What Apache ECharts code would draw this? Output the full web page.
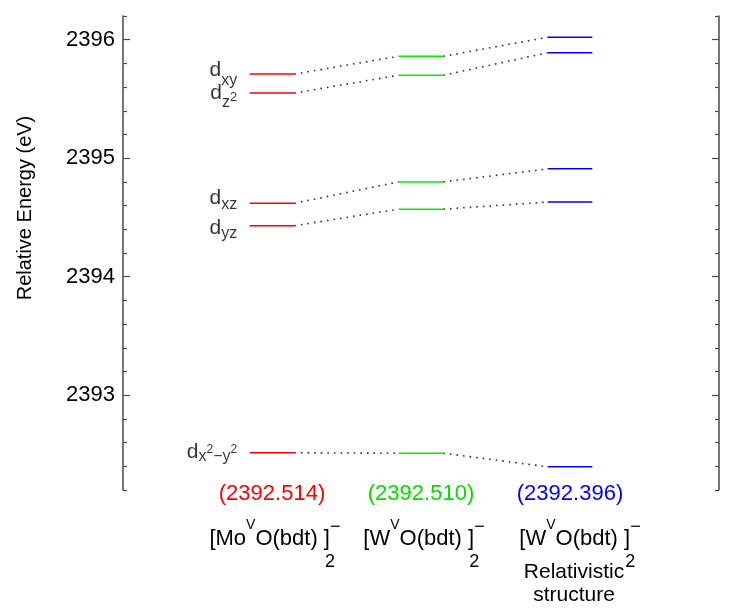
<!DOCTYPE html>
<html><head><meta charset="utf-8">
<script src="https://cdn.jsdelivr.net/npm/echarts@6/dist/echarts.min.js"></script>
<style>html,body{margin:0;padding:0;background:#fff}#c{width:732px;height:612px}</style>
</head><body><div id="c"></div>
<script>
// ---- data ----
const orbitalLabels = ['{d0|d}{s0|xy}', '{d1|d}{s1|z}{p1|2}', '{d2|d}{s2|xz}', '{d3|d}{s3|yz}', '{d4|d}{s4|x}{p4|2}{s4|\u2212y}{p4|2}'];
const energyMo   = [2395.71, 2395.55, 2394.62, 2394.43, 2392.514];
const energyW    = [2395.86, 2395.70, 2394.80, 2394.57, 2392.510];
const energyWrel = [2396.02, 2395.89, 2394.91, 2394.63, 2392.396];
const compoundNames = [
  '{m|[Mo}{sup|V}{m|O(bdt) ]}{sub|2}{chg|\u2212}',
  '{m|[W}{sup|V}{m|O(bdt) ]}{sub|2}{chg|\u2212}',
  '{m|[W}{sup|V}{m|O(bdt) ]}{sub|2}{chg|\u2212}'
];
const compoundNotes = ['', '', 'Relativistic\nstructure'];
const majorTicks = [2393, 2394, 2395, 2396];
const minorTicks = [2392.2, 2392.4, 2392.6, 2392.8, 2393.2, 2393.4, 2393.6, 2393.8,
  2394.2, 2394.4, 2394.6, 2394.8, 2395.2, 2395.4, 2395.6, 2395.8, 2396.2];
const yTitle = 'Relative Energy (eV)';

// ---- chart ----
const FONT = '"Liberation Sans", Arial, sans-serif';
const chart = echarts.init(document.getElementById('c'), null, {renderer: 'canvas'});
const xCenters = [1, 2, 3];
const HALF = 0.15;
const levelColors = ['#ff0000', '#00f000', '#0000ff'];
const textColors = ['#ff0000', '#00e000', '#0000ff'];
const nameShift = [3, 3, 10];
const energies = [energyMo, energyW, energyWrel];
const YMIN = 2392.2, YMAX = 2396.2;

function sh(size, s) {
  return {fontSize: size, fontFamily: FONT, color: '#000',
    padding: s >= 0 ? [2 * s, 0, 0, 0] : [0, 0, -2 * s, 0]};
}
const dRich = {
  d0: sh(21, -4), s0: sh(16, 7),
  d1: sh(21, 0), s1: sh(16, 10), p1: sh(13, 4),
  d2: sh(21, -5), s2: sh(16, 1),
  d3: sh(21, 2), s3: sh(16, 8),
  d4: sh(21, -1), s4: sh(16, 4), p4: sh(12, -3)
};

const series = [];
energies.forEach((arr, k) => {
  arr.forEach((e, i) => {
    series.push({
      type: 'line', symbol: 'none', silent: true, animation: false, z: 3,
      lineStyle: {color: levelColors[k], width: 1.5},
      data: [[xCenters[k] - HALF, e], [xCenters[k] + HALF, e]]
    });
  });
});
for (let k = 0; k < energies.length - 1; k++) {
  energies[k].forEach((e, i) => {
    series.push({
      type: 'line', symbol: 'none', silent: true, animation: false, z: 2,
      lineStyle: {color: '#333', width: 1.6, type: [1.6, 5]},
      data: [[xCenters[k] + HALF, e], [xCenters[k + 1] - HALF, energies[k + 1][i]]]
    });
  });
}
series.push({
  type: 'scatter', symbolSize: 1, silent: true, animation: false,
  itemStyle: {color: 'rgba(0,0,0,0)'},
  data: energyMo.map((e, i) => ({
    value: [xCenters[0] - HALF, e],
    label: {show: true, position: 'left', distance: 12, formatter: orbitalLabels[i], rich: dRich}
  }))
});

const axisColor = '#4a4a4a';
function yAx(pos, ticks, len, labels, line) {
  return {
    type: 'value', position: pos, min: YMIN, max: YMAX,
    axisLine: {show: line, lineStyle: {color: axisColor, width: 1.5}},
    axisTick: {show: true, inside: true, length: len, customValues: ticks, lineStyle: {color: axisColor, width: 1.2}},
    axisLabel: labels ? {show: true, customValues: majorTicks, formatter: v => String(Math.round(v)),
      color: '#000', fontSize: 22, fontFamily: FONT, margin: 8} : {show: false},
    splitLine: {show: false}
  };
}

chart.setOption({
  animation: false,
  backgroundColor: '#fff',
  grid: {left: 123, right: 13, top: 16, bottom: 122},
  xAxis: {type: 'value', min: 0, max: 4, show: false},
  yAxis: [
    yAx('left', majorTicks, 7, true, true),
    yAx('left', minorTicks, 4, false, false),
    yAx('right', majorTicks, 7, false, true),
    yAx('right', minorTicks, 4, false, false)
  ],
  series: series
});

const nameRich = {
  m: {fontSize: 22, fontFamily: FONT, color: '#000'},
  sup: sh(14, -14),
  sub: Object.assign(sh(18, 23), {width: 0.1}),
  chg: sh(18, -12)
};
const graphics = [{
  type: 'text', x: 25, y: 208, rotation: Math.PI / 2,
  style: {text: yTitle, fontSize: 20, fontFamily: FONT, fill: '#000', align: 'center', verticalAlign: 'middle'}
}];
xCenters.forEach((xc, k) => {
  const px = chart.convertToPixel({xAxisIndex: 0}, xc);
  graphics.push({
    type: 'text', x: px, y: 494,
    style: {text: '(' + energies[k][4].toFixed(3) + ')', fontSize: 22, fontFamily: FONT, fill: textColors[k], align: 'center', verticalAlign: 'middle'}
  });
  graphics.push({
    type: 'text', x: px + nameShift[k], y: 539,
    style: {text: compoundNames[k], rich: nameRich, fill: '#000', align: 'center', verticalAlign: 'middle'}
  });
  if (compoundNotes[k]) {
    graphics.push({
      type: 'text', x: px + 4, y: 584,
      style: {text: compoundNotes[k], fontSize: 21, fontFamily: FONT, fill: '#000', lineHeight: 23, align: 'center', verticalAlign: 'middle'}
    });
  }
});
chart.setOption({graphic: graphics});
</script>
</body></html>
